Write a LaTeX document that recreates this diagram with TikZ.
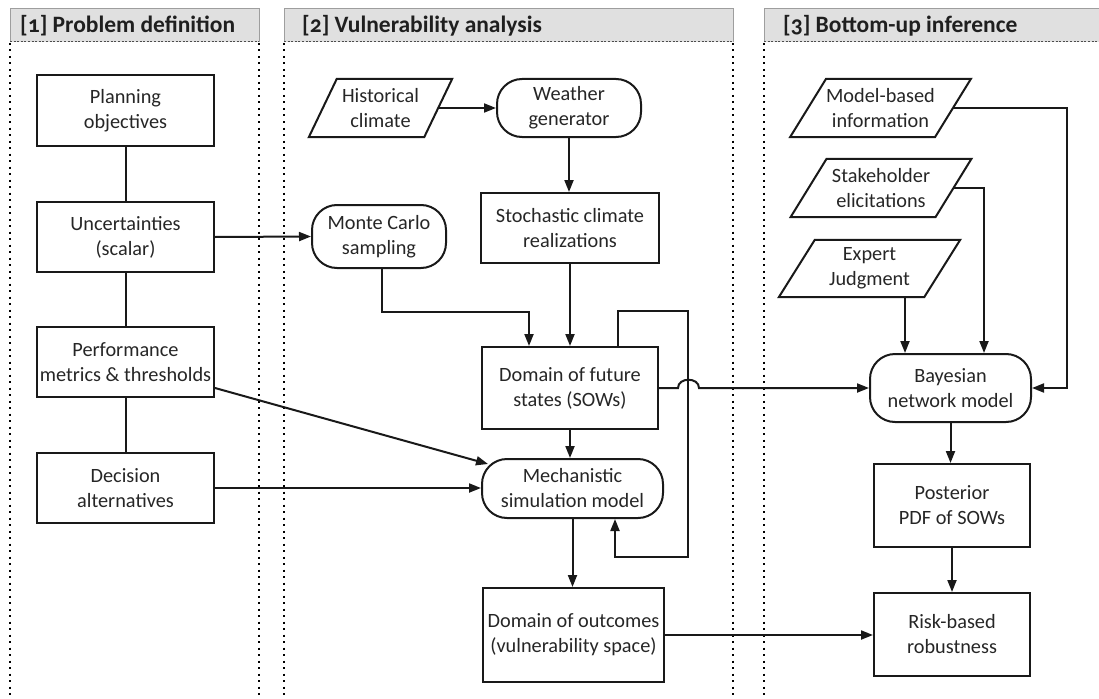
\documentclass[tikz,border=0pt]{standalone}
\usepackage{fontspec}
\setmainfont{Carlito}[Numbers=OldStyle]
\usetikzlibrary{arrows.meta,calc}

\begin{document}
\begin{tikzpicture}[x=1pt,y=-1pt,
  txt/.style={font=\fontsize{20.3pt}{25pt}\selectfont, text=black!85, align=center, inner sep=0pt},
  procbox/.style={txt, draw=black!90, line width=2pt, rectangle},
  termbox/.style={procbox, rounded corners=25pt},
  databox/.style={txt, rectangle},
  dataedge/.style={draw=black!90, line width=2pt, line join=miter},
  conn/.style={draw=black!90, line width=2pt},
  arr/.style={conn, -{Triangle[length=12pt,width=9pt]}},
  hdrfill/.style={fill=black!12},
  hdredge/.style={draw=black!38, line width=1pt},
  hdrdash/.style={draw=black!70, line width=1pt, dash pattern=on 2pt off 1.6pt},
  hdrtxt/.style={font=\fontsize{23.5pt}{26pt}\selectfont\bfseries, text=black!88, anchor=west, inner sep=0pt},
  colsep/.style={draw=black, line width=2pt, dash pattern=on 2pt off 4.5pt}
]
\useasboundingbox (0,0) rectangle (1099,698);

% column frames
\foreach \xa/\xb in {10/259, 284/733, 764/1110} {
  \fill[hdrfill] (\xa,9) rectangle (\xb,42);
  \draw[hdredge] (\xa,42) -- (\xa,9) -- (\xb,9) -- (\xb,42);
  \draw[hdrdash] (\xa,42) -- (\xb,42);
}
\foreach \xc in {10, 259, 284, 733, 764} {
  \draw[colsep] (\xc,43) -- (\xc,698);
}
\node[hdrtxt] (h1) at (20,25.5) {[1] Problem definition};
\node[hdrtxt] (h2) at (302,25.5) {[2] Vulnerability analysis};
\node[hdrtxt] (h3) at (783,25.5) {[3] Bottom-up inference};

% [1] problem definition
\node[procbox, minimum width=177pt, minimum height=71pt] (plan) at (125.5,110.5) {Planning\\objectives};
\node[procbox, minimum width=177pt, minimum height=70pt] (unc)  at (125.5,237) {Uncertainties\\(scalar)};
\node[procbox, minimum width=177pt, minimum height=70pt] (perf) at (125.5,362) {Performance\\metrics \& thresholds};
\node[procbox, minimum width=177pt, minimum height=70pt] (dec)  at (125.5,488) {Decision\\alternatives};

% [2] vulnerability analysis
\node[databox, minimum width=115pt, minimum height=58pt] (hist) at (380.5,108) {Historical\\climate};
\node[termbox, minimum width=144pt, minimum height=58pt] (wg) at (569,108) {Weather\\generator};
\node[termbox, minimum width=134pt, minimum height=63pt] (mc) at (379,236.5) {Monte Carlo\\sampling};
\node[procbox, minimum width=178pt, minimum height=70pt] (stoch) at (570,228) {Stochastic climate\\realizations};
\node[procbox, minimum width=176pt, minimum height=82pt] (dom) at (570,388) {Domain of future\\states (SOWs)};
\node[termbox, minimum width=181pt, minimum height=59pt] (mech) at (572.5,488.5) {Mechanistic\\simulation model};
\node[procbox, minimum width=181pt, minimum height=94pt] (outc) at (573.5,635) {Domain of outcomes\\(vulnerability space)};

% [3] bottom-up inference
\node[databox, minimum width=144.5pt, minimum height=58pt] (model) at (880.5,108) {Model-based\\information};
\node[databox, minimum width=144.5pt, minimum height=58pt] (stake) at (881,188) {Stakeholder\\elicitations};
\node[databox, minimum width=145pt, minimum height=57pt] (expt) at (869.5,268.5) {Expert\\Judgment};
\node[termbox, minimum width=161pt, minimum height=68pt] (bay) at (950.5,388) {Bayesian\\network model};
\node[procbox, minimum width=156pt, minimum height=83pt] (post) at (952,505.5) {Posterior\\PDF of SOWs};
\node[procbox, minimum width=156pt, minimum height=83pt] (risk) at (952,634.5) {Risk-based\\robustness};

% slanted outlines of the data nodes
\foreach \n/\s in {hist/14, model/18, stake/18, expt/18} {
  \draw[dataedge] ([xshift=-\s]\n.south west) -- ([xshift=\s]\n.north west)
    -- ([xshift=\s]\n.north east) -- ([xshift=-\s]\n.south east) -- cycle;
}

% connectors of column 1
\draw[conn] (plan) -- (unc);
\draw[conn] (unc) -- (perf);
\draw[conn] (perf) -- (dec);
\draw[arr] (unc.east) -- (mc.west);
\draw[arr] ([yshift=-26pt]perf.east) -- ([xshift=7pt,yshift=-6pt]mech.north west);
\draw[arr] (dec.east) -- (dec.east -| mech.west);

% connectors of column 2
\coordinate (mcbend) at (529,312);
\coordinate (loopa) at (688,311);
\coordinate (loopb) at (688,557);
\draw[arr] (hist.east) -- (wg.west);
\draw[arr] (wg.south) -- (wg.south |- stoch.north);
\draw[arr] ([xshift=3pt]mc.south) |- (mcbend) -- (mcbend |- dom.north);
\draw[arr] (stoch.south) -- (dom.north -| stoch.south);
\draw[arr] (dom.south) -- (dom.south |- mech.north);
\draw[arr] ([xshift=48pt]dom.north) |- (loopa) |- (loopb) -| ([xshift=42.5pt]mech.south);
\draw[arr] (mech.south) -- (mech.south |- outc.north);
\draw[arr] (dom.east) -- (678,388) .. controls (678,377) and (699,377) .. (699,388) -- (bay.west);
\draw[arr] (outc.east) -- (outc.east -| risk.west);

% connectors of column 3
\coordinate (mright) at (1067,108);
\draw[arr] (model.east) -- (mright) |- (bay.east);
\draw[arr] (stake.east) -| ([xshift=33.5pt]bay.north);
\draw[arr] ([xshift=35.5pt]expt.south) -- ([xshift=35.5pt]expt.south |- bay.north);
\draw[arr] (bay.south) -- (bay.south |- post.north);
\draw[arr] (post.south) -- (post.south |- risk.north);
\end{tikzpicture}
\end{document}
